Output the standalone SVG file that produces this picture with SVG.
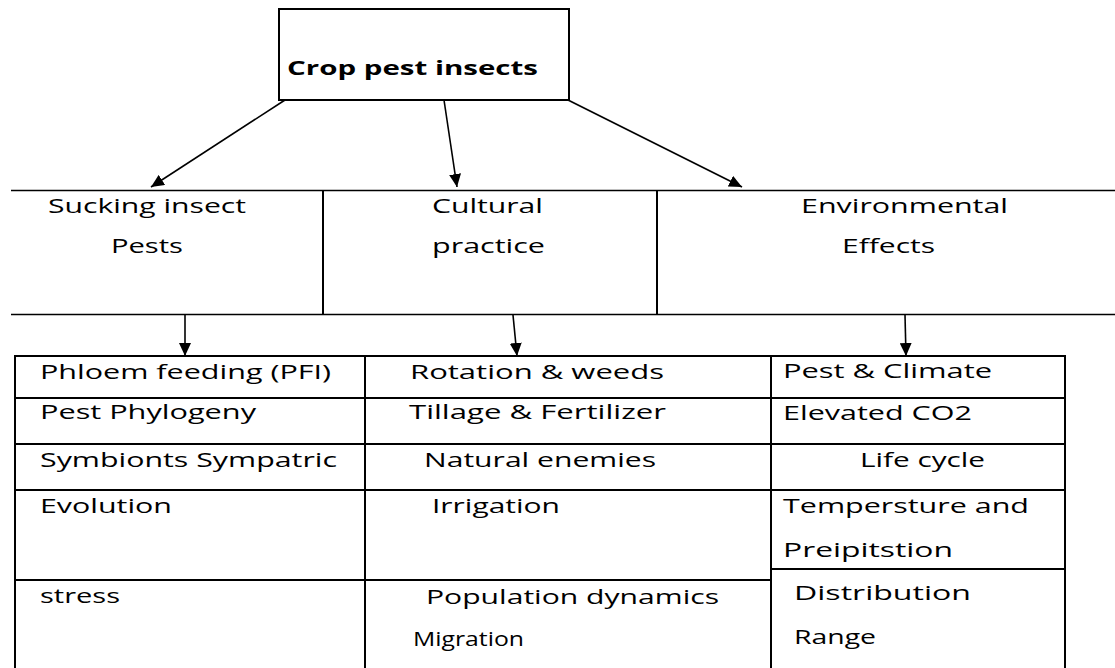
<svg xmlns="http://www.w3.org/2000/svg" width="1115" height="668" viewBox="0 0 1115 668">
<style>
  text { font-family: "Open Sans", "DejaVu Sans", sans-serif; font-size: 20px; fill: #000; }
  .title { font-weight: bold; font-size: 19px; }
  .box { fill: #fff; stroke: #000; stroke-width: 2; }
  .rule { stroke: #000; stroke-width: 1.5; fill: none; }
  .grid { stroke: #000; stroke-width: 2; fill: none; }
  .conn { stroke: #000; stroke-width: 1.6; fill: none; marker-end: url(#arrow); }
</style>
<defs>
  <marker id="arrow" markerUnits="userSpaceOnUse" markerWidth="14" markerHeight="12" refX="13" refY="6" orient="auto">
    <path d="M0,0 L13,6 L0,12 Z" fill="#000"/>
  </marker>
</defs>
<rect width="1115" height="668" fill="#fff"/>

<g id="root">
  <rect class="box" x="279" y="9" width="290" height="91"/>
  <text class="title" x="287" y="75" textLength="251" lengthAdjust="spacingAndGlyphs">Crop pest insects</text>
</g>

<g id="header-band">
  <line class="rule" x1="11" y1="190.5" x2="1115" y2="190.5"/>
  <line class="rule" x1="11" y1="314.5" x2="1115" y2="314.5"/>
  <line class="grid" x1="323" y1="190" x2="323" y2="315"/>
  <line class="grid" x1="657" y1="190" x2="657" y2="315"/>
</g>

<g id="sucking">
  <text x="48" y="213" textLength="198" lengthAdjust="spacingAndGlyphs">Sucking insect</text>
  <text x="111" y="253" textLength="72" lengthAdjust="spacingAndGlyphs">Pests</text>
</g>
<g id="cultural">
  <text x="432" y="213" textLength="111" lengthAdjust="spacingAndGlyphs">Cultural</text>
  <text x="432" y="253" textLength="113" lengthAdjust="spacingAndGlyphs">practice</text>
</g>
<g id="environmental">
  <text x="801" y="213" textLength="207" lengthAdjust="spacingAndGlyphs">Environmental</text>
  <text x="842" y="253" textLength="93" lengthAdjust="spacingAndGlyphs">Effects</text>
</g>

<g id="table">
  <rect class="grid" x="15" y="356" width="1050" height="320"/>
  <line class="grid" x1="365" y1="356" x2="365" y2="668"/>
  <line class="grid" x1="771" y1="356" x2="771" y2="668"/>
  <line class="grid" x1="15" y1="398" x2="1065" y2="398"/>
  <line class="grid" x1="15" y1="444" x2="1065" y2="444"/>
  <line class="grid" x1="15" y1="490" x2="1065" y2="490"/>
  <line class="grid" x1="15" y1="580" x2="771" y2="580"/>
  <line class="grid" x1="771" y1="569" x2="1065" y2="569"/>
</g>

<g id="sucking-items">
  <text x="40" y="379" textLength="291" lengthAdjust="spacingAndGlyphs">Phloem feeding (PFI)</text>
  <text x="40" y="419" textLength="216" lengthAdjust="spacingAndGlyphs">Pest Phylogeny</text>
  <text x="40" y="467" textLength="297" lengthAdjust="spacingAndGlyphs">Symbionts Sympatric</text>
  <text x="40" y="513" textLength="132" lengthAdjust="spacingAndGlyphs">Evolution</text>
  <text x="40" y="603" textLength="80" lengthAdjust="spacingAndGlyphs">stress</text>
</g>

<g id="cultural-items">
  <text x="410" y="379" textLength="254" lengthAdjust="spacingAndGlyphs">Rotation &amp; weeds</text>
  <text x="409" y="419" textLength="257" lengthAdjust="spacingAndGlyphs">Tillage &amp; Fertilizer</text>
  <text x="424" y="467" textLength="232" lengthAdjust="spacingAndGlyphs">Natural enemies</text>
  <text x="432" y="513" textLength="128" lengthAdjust="spacingAndGlyphs">Irrigation</text>
  <text x="426" y="604" textLength="293" lengthAdjust="spacingAndGlyphs">Population dynamics</text>
  <text x="413" y="646" textLength="111" lengthAdjust="spacingAndGlyphs">Migration</text>
</g>

<g id="environmental-items">
  <text x="783" y="378" textLength="209" lengthAdjust="spacingAndGlyphs">Pest &amp; Climate</text>
  <text x="783" y="420" textLength="189" lengthAdjust="spacingAndGlyphs">Elevated CO2</text>
  <text x="860" y="467" textLength="125" lengthAdjust="spacingAndGlyphs">Life cycle</text>
  <text x="783" y="513" textLength="246" lengthAdjust="spacingAndGlyphs">Tempersture and</text>
  <text x="783" y="557" textLength="170" lengthAdjust="spacingAndGlyphs">Preipitstion</text>
  <text x="794" y="600" textLength="177" lengthAdjust="spacingAndGlyphs">Distribution</text>
  <text x="794" y="644" textLength="82" lengthAdjust="spacingAndGlyphs">Range</text>
</g>

<g id="connectors">
  <line class="conn" x1="285" y1="100" x2="151" y2="187"/>
  <line class="conn" x1="444" y1="100" x2="457" y2="187"/>
  <line class="conn" x1="568" y1="100" x2="742" y2="187"/>
  <line class="conn" x1="185" y1="315" x2="185" y2="356"/>
  <line class="conn" x1="513" y1="315" x2="517" y2="356"/>
  <line class="conn" x1="905" y1="315" x2="906" y2="356"/>
</g>
</svg>
